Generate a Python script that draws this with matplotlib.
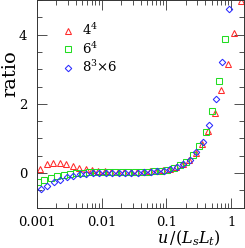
import numpy as np
import matplotlib
matplotlib.use("Agg")
import matplotlib.pyplot as plt
from matplotlib.ticker import MultipleLocator, LogLocator, NullFormatter, FixedFormatter, FixedLocator

plt.rcParams['font.family'] = ['DejaVu Serif']
plt.rcParams['mathtext.fontset'] = 'dejavuserif'

# log10 of u/(Ls Lt) for each lattice
logu_44 = [-2.95, -2.85, -2.75, -2.65, -2.55, -2.45, -2.35, -2.25, -2.15, -2.05,
           -1.95, -1.85, -1.75, -1.65, -1.55, -1.45, -1.35, -1.25, -1.15, -1.05,
           -0.95, -0.85, -0.75, -0.65, -0.55, -0.45, -0.35, -0.25, -0.15, -0.05,
           0.05, 0.15]
ratio_44 = [0.12, 0.25, 0.28, 0.28, 0.25, 0.21, 0.16, 0.13, 0.10, 0.07,
            0.05, 0.04, 0.03, 0.03, 0.03, 0.03, 0.04, 0.05, 0.07, 0.09,
            0.13, 0.19, 0.27, 0.39, 0.57, 0.84, 1.22, 1.73, 2.40, 3.16,
            4.05, 4.97]

logu_64 = [-2.99, -2.89, -2.79, -2.69, -2.59, -2.49, -2.39, -2.29, -2.19, -2.09,
           -1.99, -1.89, -1.79, -1.69, -1.59, -1.49, -1.39, -1.29, -1.19, -1.09,
           -0.99, -0.89, -0.79, -0.69, -0.59, -0.49, -0.39, -0.29, -0.19, -0.09]
ratio_64 = [-0.25, -0.19, -0.13, -0.085, -0.045, -0.015, 0.005, 0.015, 0.02, 0.02,
            0.02, 0.02, 0.02, 0.02, 0.02, 0.02, 0.03, 0.04, 0.05, 0.07,
            0.10, 0.15, 0.22, 0.33, 0.52, 0.78, 1.19, 1.78, 2.67, 3.87]

logu_836 = [-2.94, -2.84, -2.74, -2.64, -2.54, -2.44, -2.34, -2.24, -2.14, -2.04,
            -1.94, -1.84, -1.74, -1.64, -1.54, -1.44, -1.34, -1.24, -1.14, -1.04,
            -0.94, -0.84, -0.74, -0.64, -0.54, -0.44, -0.34, -0.24, -0.14, -0.04]
ratio_836 = [-0.45, -0.36, -0.27, -0.19, -0.12, -0.07, -0.035, -0.015, -0.005, 0.0,
             0.0, 0.0, 0.0, 0.0, 0.0, 0.01, 0.02, 0.03, 0.05, 0.07,
             0.11, 0.17, 0.25, 0.38, 0.60, 0.91, 1.40, 2.13, 3.21, 4.74]

xticks = [0.001, 0.01, 0.1, 1]
xticklabels = ['0.001', '0.01', '0.1', '1']

fig = plt.figure(figsize=(2.45, 2.48), dpi=100)
ax = fig.add_axes([37/245, 40.3/248, 207/245, 207.7/248])

ax.plot(10**np.array(logu_44), ratio_44, ls='none', marker='^', ms=4.6,
        mfc='none', mec='#ff2a2a', mew=0.75, label=r'$4^4$')
ax.plot(10**np.array(logu_64), ratio_64, ls='none', marker='s', ms=3.8,
        mfc='none', mec='#22dd22', mew=0.75, label=r'$6^4$')
ax.plot(10**np.array(logu_836), ratio_836, ls='none', marker='D', ms=3.3,
        mfc='none', mec='#2a2aff', mew=0.75, label=r'$8^3{\times}6$')

ax.set_xscale('log')
ax.set_xlim(1e-3, 1.58)
ax.set_ylim(-1, 5)

ax.xaxis.set_major_locator(FixedLocator(xticks))
ax.xaxis.set_major_formatter(FixedFormatter(xticklabels))
ax.xaxis.set_minor_locator(LogLocator(base=10, subs=np.arange(2, 10), numticks=20))
ax.xaxis.set_minor_formatter(NullFormatter())
ax.yaxis.set_major_locator(MultipleLocator(2))
ax.yaxis.set_minor_locator(MultipleLocator(0.5))

ax.tick_params(which='both', direction='in', top=True, right=True,
               colors='#333333', labelcolor='black', labelsize=9.5)
ax.tick_params(which='major', length=7, width=0.6)
ax.tick_params(which='minor', length=3.6, width=0.6)
ax.tick_params(axis='x', pad=6)
ax.tick_params(axis='y', pad=7)
for s in ax.spines.values():
    s.set_linewidth(0.7)
    s.set_color('#333333')

ax.set_ylabel('ratio', fontsize=14)
ax.yaxis.set_label_coords(-0.085, 0.646)
ax.set_xlabel(r'$u\,/(L_sL_t)$', fontsize=11.5)
ax.xaxis.set_label_coords(0.735, -0.099)
ax.xaxis.label.set_va('top')

ax.legend(loc='upper left', bbox_to_anchor=(0.12, 0.893), frameon=False,
          fontsize=9.5, handlelength=1.0, handletextpad=0.5,
          labelspacing=0.2, borderpad=0, borderaxespad=0)

fig.savefig('out.png', dpi=100)
